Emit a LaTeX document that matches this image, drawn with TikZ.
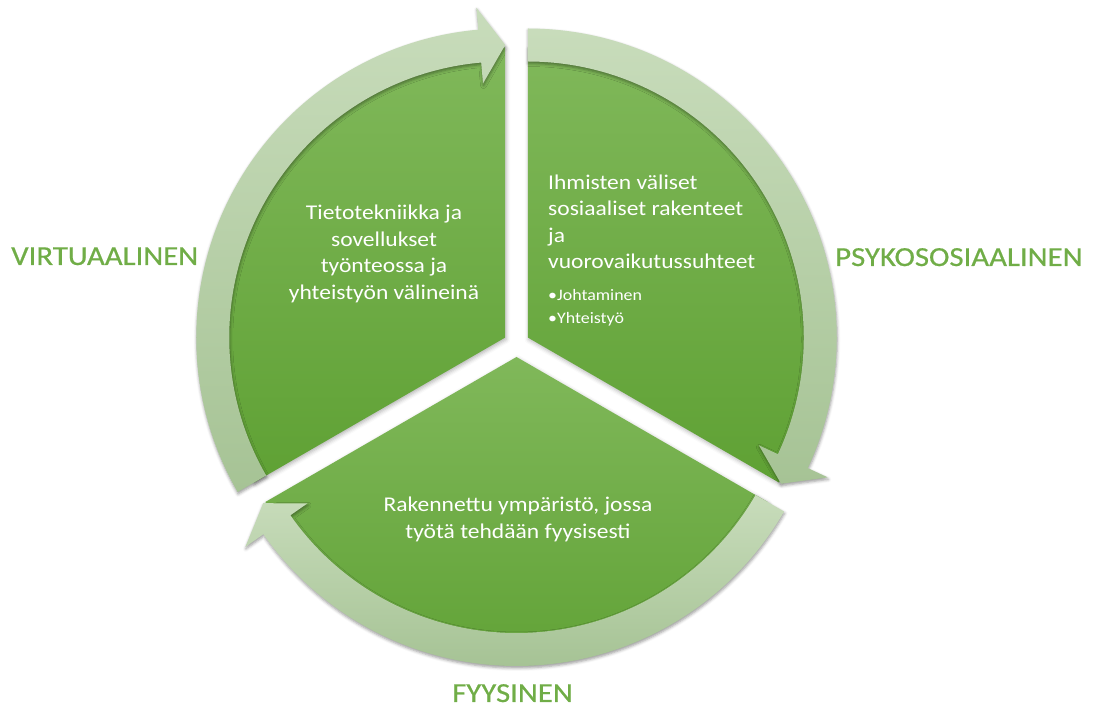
\documentclass[tikz,border=0pt]{standalone}
\usepackage{fontspec}
\setmainfont{Carlito}
\newfontfamily\wideface[FakeStretch=1.12]{Carlito}
\newfontfamily\labelface[FakeStretch=1.12,FakeBold=0.6]{Carlito}
\usetikzlibrary{shadows.blur}

\definecolor{labelgreen}{HTML}{70AD47}
\definecolor{secTop}{HTML}{80B85A}
\definecolor{secBot}{HTML}{5FA134}
\definecolor{bandTop}{HTML}{C8DCBB}
\definecolor{bandBot}{HTML}{A6C395}

\tikzset{
  sector/.style={top color=secTop, bottom color=secBot,
    blur shadow={shadow xshift=1pt, shadow yshift=-2pt, shadow blur radius=4pt, shadow opacity=30}},
  band/.style={top color=bandTop, bottom color=bandBot,
    blur shadow={shadow xshift=0.5pt, shadow yshift=-2pt, shadow blur radius=3pt, shadow opacity=40}},
  maintext/.style={inner sep=0pt, text=white, font=\wideface\fontsize{21}{26.5}\selectfont},
  bullettext/.style={inner sep=0pt, text=white, font=\wideface\fontsize{16}{23}\selectfont, align=left},
  ringlabel/.style={inner sep=0pt, text=labelgreen, font=\labelface\fontsize{27.5}{30}\selectfont}
}

% sector radius, band radii and arrowhead radii
\def\rsec{290}
\def\rout{309}
\def\rin{276}
\def\rmid{292.5}
\def\rbo{331}
\def\rbi{255}

\begin{document}
\begin{tikzpicture}[x=1pt,y=1pt]
\useasboundingbox (0,0) rectangle (1101,707);

% apexes of the three exploded sectors
\coordinate (aTL) at (505.24,369.5);
\coordinate (aR)  at (527.76,369.5);
\coordinate (aB)  at (516.5,350);

% sectors
\begin{scope}[shift={(aTL)}]
  \path[sector] (0,0) -- (90:\rsec) arc[start angle=90, end angle=210, radius=\rsec] -- cycle;
\end{scope}
\begin{scope}[shift={(aR)}]
  \path[sector] (0,0) -- (90:\rsec) arc[start angle=90, end angle=-30, radius=\rsec] -- cycle;
\end{scope}
\begin{scope}[shift={(aB)}]
  \path[sector] (0,0) -- (-30:\rsec) arc[start angle=-30, end angle=-150, radius=\rsec] -- cycle;
\end{scope}

% curved arrows running clockwise round each sector
\begin{scope}[shift={(aTL)}]
  \path[band] (210:\rout) arc[start angle=210, end angle=95, radius=\rout]
    -- (95:\rbo) -- (90:\rmid) -- (95:\rbi) -- (95:\rin)
    arc[start angle=95, end angle=210, radius=\rin] -- cycle;
\end{scope}
\begin{scope}[shift={(aR)}]
  \path[band] (90:\rout) arc[start angle=90, end angle=-25, radius=\rout]
    -- (-25:\rbo) -- (-30:\rmid) -- (-25:\rbi) -- (-25:\rin)
    arc[start angle=-25, end angle=90, radius=\rin] -- cycle;
\end{scope}
\begin{scope}[shift={(aB)}]
  \path[band] (-30:\rout) arc[start angle=-30, end angle=-145, radius=\rout]
    -- (-145:\rbo) -- (-150:\rmid) -- (-145:\rbi) -- (-145:\rin)
    arc[start angle=-145, end angle=-30, radius=\rin] -- cycle;
\end{scope}

% texts inside the sectors
\node[maintext, align=center] (tVirt) at (384,453)
  {Tietotekniikka ja\\sovellukset\\työnteossa ja\\yhteistyön välineinä};
\node[maintext, align=left, anchor=west] (tPsy) at (548,485)
  {Ihmisten väliset\\sosiaaliset rakenteet\\ja\\vuorovaikutussuhteet};
\node[bullettext, anchor=west] (tPsyList) at (548,399.3)
  {•Johtaminen\\•Yhteistyö};
\node[maintext, align=center] (tFyy) at (518,187.7)
  {Rakennettu ympäristö, jossa\\työtä tehdään fyysisesti};

% ring labels
\node[ringlabel, anchor=base west] (lVirt) at (11,442) {VIRTUAALINEN};
\node[ringlabel, anchor=base west] (lPsy) at (835,441) {PSYKOSOSIAALINEN};
\node[ringlabel, anchor=base] (lFyy) at (512.5,5) {FYYSINEN};
\end{tikzpicture}
\end{document}
